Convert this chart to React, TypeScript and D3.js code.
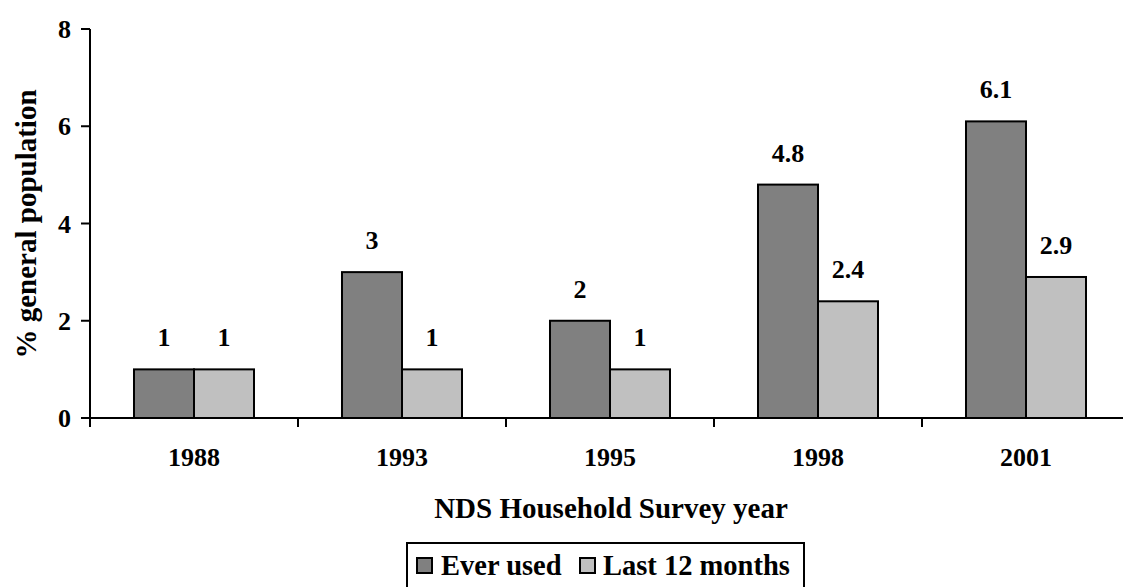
import React from "react";
import * as d3 from "d3";

const years = ["1988", "1993", "1995", "1998", "2001"];
const seriesNames = ["Ever used", "Last 12 months"];
const everUsed = [1, 3, 2, 4.8, 6.1];
const last12 = [1, 1, 1, 2.4, 2.9];
const yTicks = [0, 2, 4, 6, 8];
const colors = ["#808080", "#C0C0C0"];

const W = 1123;
const H = 587;
const FONT = "'Liberation Serif', 'Times New Roman', serif";

export default function App() {
  const x = d3.scaleBand<string>().domain(years).range([90, 1130]).padding(0);
  const inner = d3
    .scaleBand<string>()
    .domain(seriesNames)
    .range([0, x.bandwidth()])
    .paddingInner(0)
    .paddingOuter(0.7333);
  const y = d3.scaleLinear().domain([0, 8]).range([418, 29]);
  const values = [everUsed, last12];
  const boundaries = years.map((yr) => x(yr)!);

  return (
    <svg
      width={W}
      height={H}
      style={{ position: "absolute", left: 0, top: 0, background: "#fff" }}
      fontFamily={FONT}
      fontWeight="bold"
    >
      {/* bars */}
      {seriesNames.map((s, si) =>
        years.map((yr, i) => {
          const v = values[si][i];
          const bx = x(yr)! + inner(s)!;
          return (
            <g key={s + yr}>
              <rect
                x={bx}
                y={y(v)}
                width={inner.bandwidth()}
                height={y(0) - y(v)}
                fill={colors[si]}
                stroke="#000"
                strokeWidth={2}
              />
              <text
                x={bx + inner.bandwidth() / 2}
                y={y(v) - 23}
                textAnchor="middle"
                fontSize={26}
                fill="#000"
              >
                {String(v)}
              </text>
            </g>
          );
        })
      )}

      {/* y axis */}
      <line x1={90} x2={90} y1={y(8)} y2={y(0)} stroke="#000" strokeWidth={2} />
      {yTicks.map((t) => (
        <g key={t}>
          <line x1={81} x2={90} y1={y(t)} y2={y(t)} stroke="#000" strokeWidth={2} />
          <text x={71} y={y(t)} dy="0.35em" textAnchor="end" fontSize={26} fill="#000">
            {t}
          </text>
        </g>
      ))}

      {/* x axis */}
      <line x1={90} x2={W} y1={y(0)} y2={y(0)} stroke="#000" strokeWidth={2} />
      {boundaries.map((b, i) => (
        <line key={i} x1={b} x2={b} y1={y(0)} y2={y(0) + 9} stroke="#000" strokeWidth={2} />
      ))}
      {years.map((yr) => (
        <text
          key={yr}
          x={x(yr)! + x.bandwidth() / 2}
          y={466}
          textAnchor="middle"
          fontSize={26}
          fill="#000"
        >
          {yr}
        </text>
      ))}

      {/* axis titles */}
      <text x={611} y={518} textAnchor="middle" fontSize={29} fill="#000">
        NDS Household Survey year
      </text>
      <text
        transform={`translate(36, 224) rotate(-90)`}
        textAnchor="middle"
        fontSize={29}
        fill="#000"
      >
        % general population
      </text>

      {/* legend */}
      <rect x={407} y={543} width={397} height={60} fill="#fff" stroke="#000" strokeWidth={2} />
      <rect x={417} y={558} width={15} height={15} fill={colors[0]} stroke="#000" strokeWidth={2} />
      <text x={441} y={575} fontSize={28.5} fill="#000">
        {seriesNames[0]}
      </text>
      <rect x={580} y={558} width={15} height={15} fill={colors[1]} stroke="#000" strokeWidth={2} />
      <text x={603} y={575} fontSize={28.5} fill="#000">
        {seriesNames[1]}
      </text>
    </svg>
  );
}
